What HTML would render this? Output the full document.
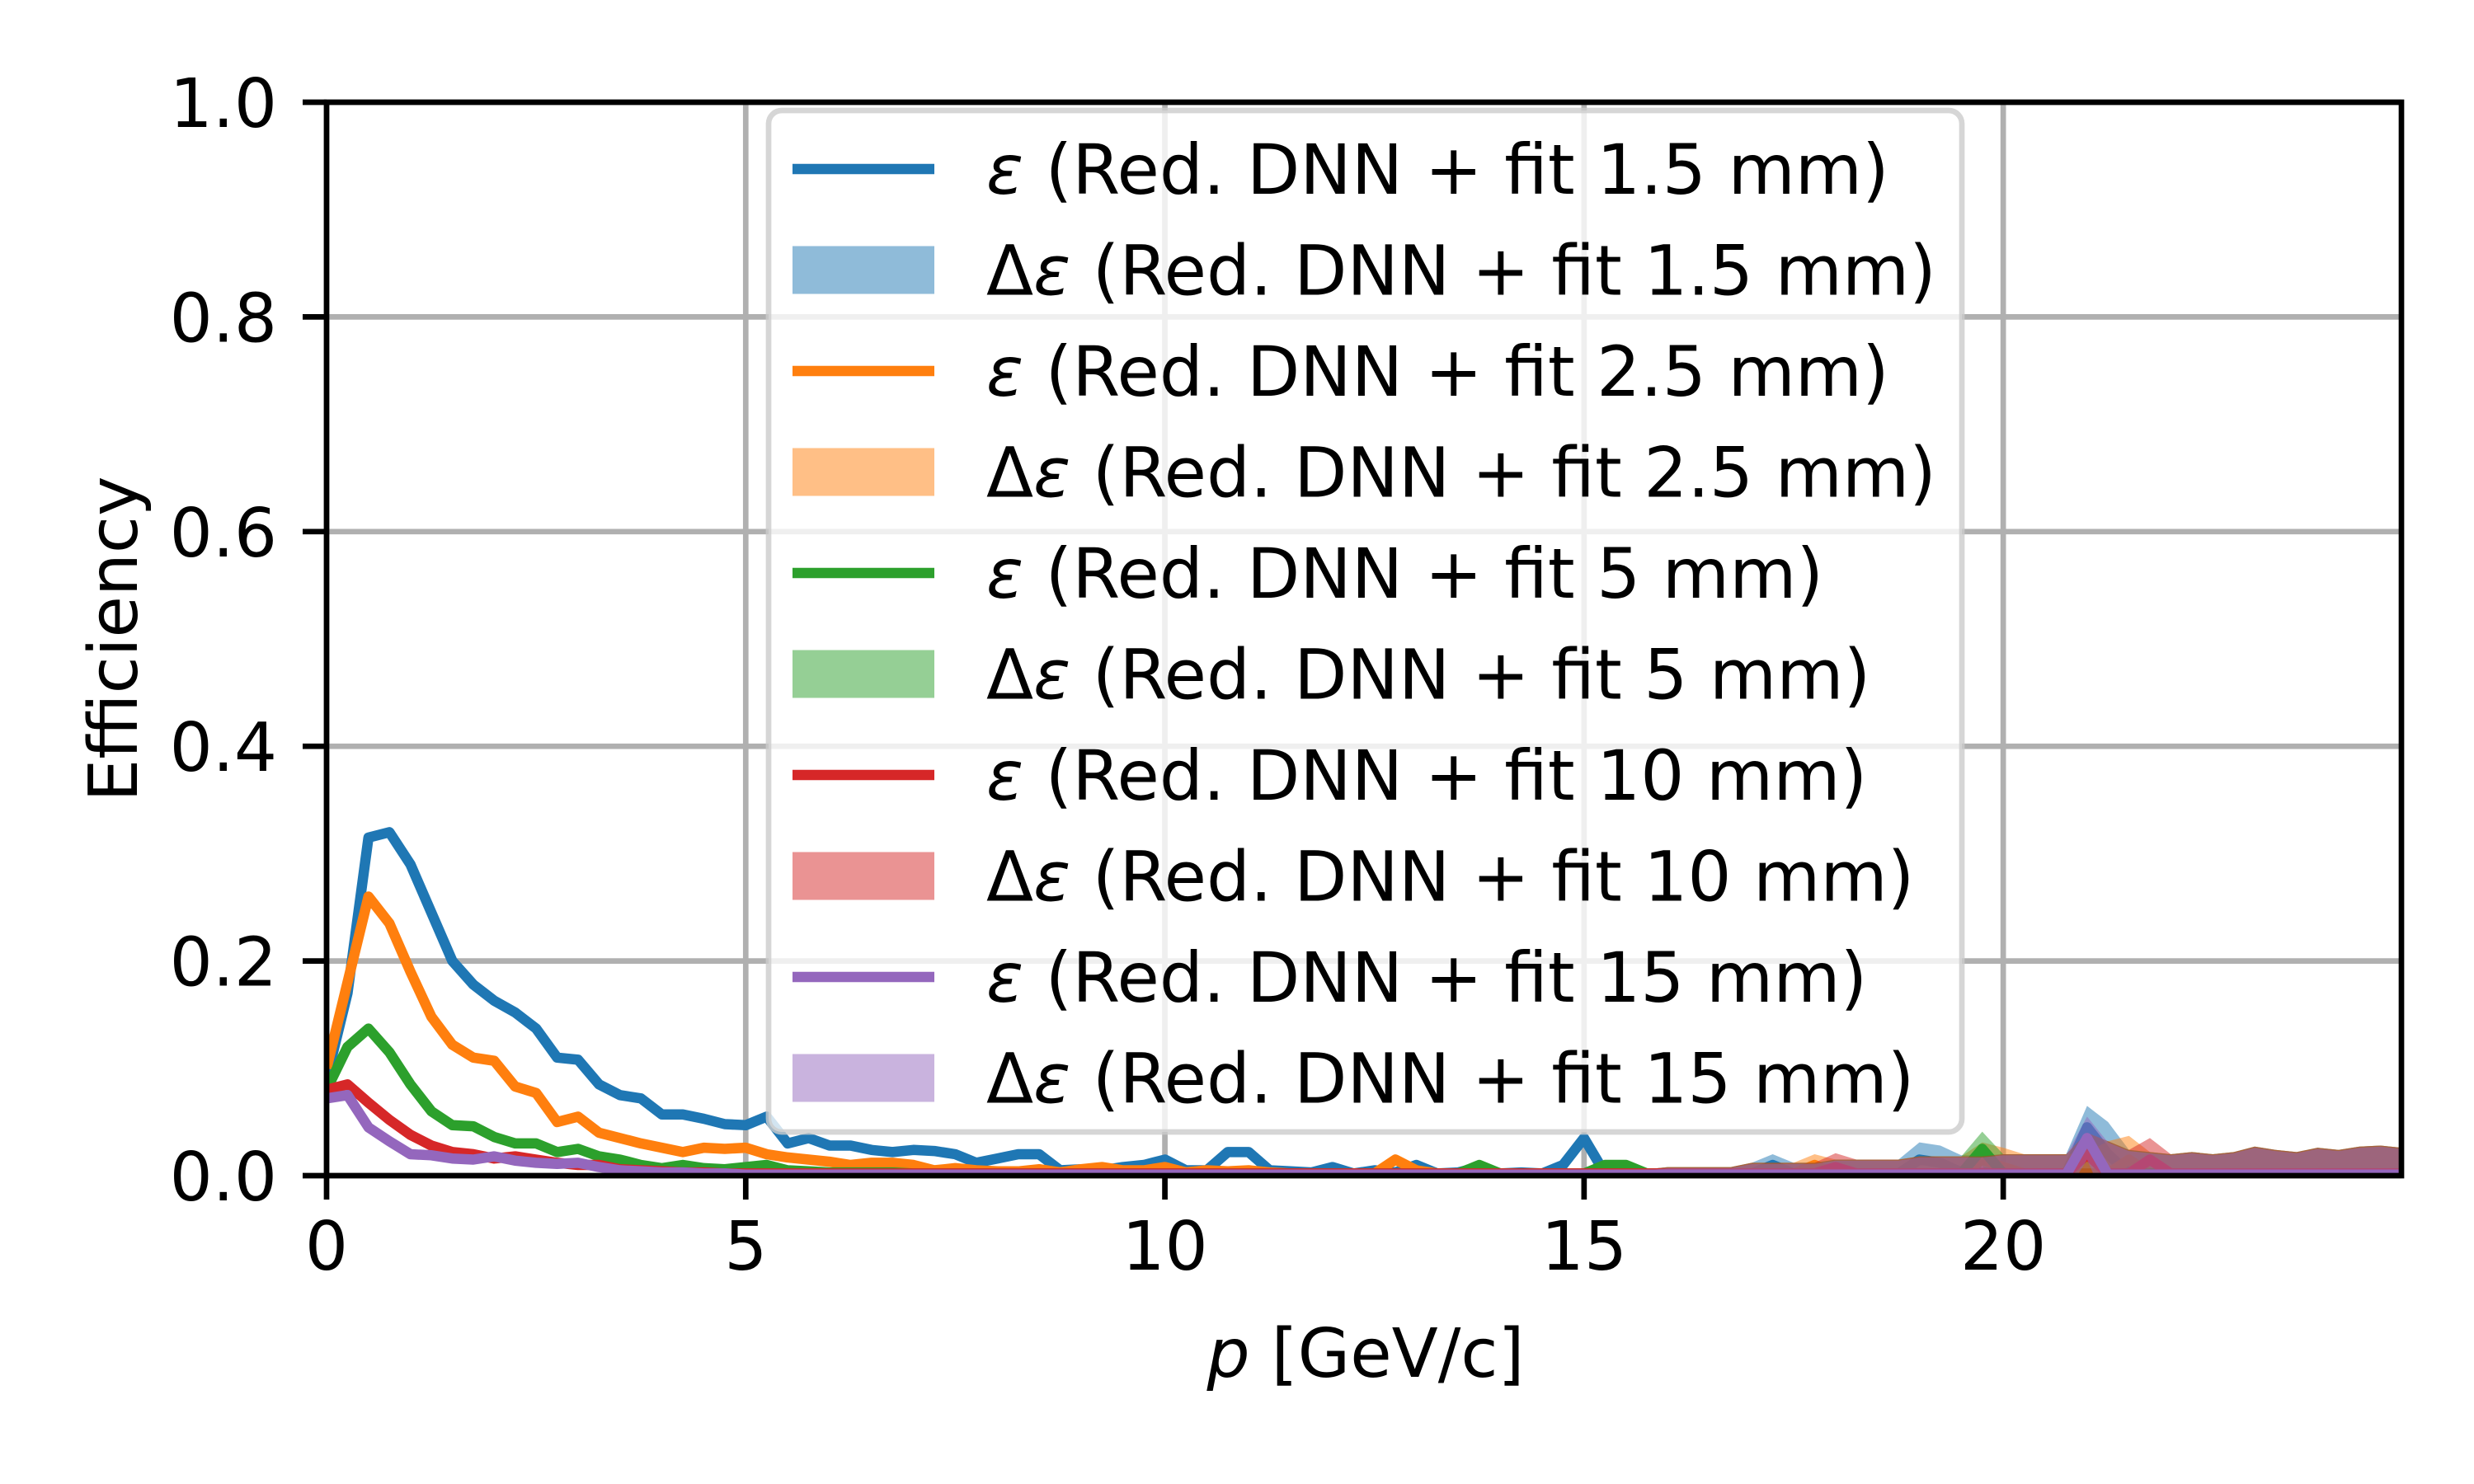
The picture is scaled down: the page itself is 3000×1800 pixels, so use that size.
<!DOCTYPE html>
<html><head><meta charset="utf-8"><style>
html,body{margin:0;padding:0;background:#fff}
svg{display:block}
text{font-family:"DejaVu Sans","Liberation Sans",sans-serif;fill:#000}
</style></head><body>
<svg id="chart" width="3000" height="1800" viewBox="0 0 3000 1800" xmlns="http://www.w3.org/2000/svg">
<defs><clipPath id="plotclip"><rect x="396" y="124" width="2516" height="1302"/></clipPath></defs>
<g id="grid"></g>
<g id="series" clip-path="url(#plotclip)"></g>
<g id="axes"></g>
<g id="legend"></g>
<text x="0" y="0" font-size="82" text-anchor="middle" transform="translate(166,775) rotate(-90)">Efficiency</text>
<text x="1656" y="1670" font-size="82" text-anchor="middle"><tspan font-style="italic">p</tspan> [GeV/c]</text>
</svg>
<script>
const xStep = 0.25;
const xTicks = [0,5,10,15,20];
const yTicks = [0,0.2,0.4,0.6,0.8,1.0];
const yTickLabels = ["0.0","0.2","0.4","0.6","0.8","1.0"];
const labels = ["1.5 mm","2.5 mm","5 mm","10 mm","15 mm"];
const colors = ["#1f77b4","#ff7f0e","#2ca02c","#d62728","#9467bd"];
const blue = [.09,.17,.315,.32,.29,.245,.2,.178,.163,.152,.137,.11,.108,.085,.075,.072,.057,.057,.053,.048,
.047,.055,.03,.035,.028,.028,.024,.022,.024,.023,.02,.012,.016,.02,.02,.005,.006,.005,.008,.01,
.015,.005,.005,.022,.022,.005,.004,.003,.008,.002,.005,.003,.01,.002,.003,.008,.002,.003,.002,.01,
.035,.002,.002,.002,.002,.002,.002,.002,.002,.01,.002,.002,.002,.002,.002,.002,.015,.012,.003,.003,
.002,.002,.002,.002,.045,.02,.002,.002,.002,.002,.002,.002,.002,.002,.002,.002,.002,.002,.002,.002];
const orange = [.1,.18,.26,.235,.19,.148,.122,.11,.107,.083,.077,.05,.055,.04,.035,.03,.026,.022,.026,.025,
.026,.02,.017,.015,.013,.01,.012,.012,.01,.005,.007,.005,.004,.004,.006,.003,.006,.008,.005,.005,
.008,.003,.005,.004,.005,.003,.002,.002,.002,.002,.002,.015,.005,.002,.002,.002,.002,.002,.002,.002,
.002,.002,.002,.002,.002,.002,.002,.002,.002,.002,.002,.01,.002,.002,.002,.002,.002,.002,.002,.015,
.008,.002,.002,.002,.002,.002,.015,.002,.002,.002,.002,.002,.002,.002,.002,.002,.002,.002,.002,.002];
const green = [.08,.12,.137,.115,.085,.06,.047,.046,.036,.03,.03,.022,.025,.018,.015,.01,.007,.01,.007,.006,
.008,.01,.005,.004,.003,.003,.003,.003,.002,.002,.002,.002,.002,.002,.002,.002,.002,.002,.002,.002,
.002,.002,.002,.002,.002,.002,.002,.002,.002,.002,.002,.002,.002,.002,.002,.01,.002,.002,.002,.002,
.002,.01,.01,.002,.002,.002,.002,.002,.002,.002,.002,.002,.002,.002,.002,.002,.002,.002,.002,.025,
.002,.002,.002,.002,.02,.002,.002,.002,.002,.002,.002,.002,.002,.002,.002,.002,.002,.002,.002,.002];
const red = [.08,.085,.068,.052,.038,.028,.022,.02,.016,.018,.015,.012,.01,.01,.006,.005,.004,.003,.003,.002,
.002,.002,.002,.002,.002,.002,.002,.002,.002,.002,.002,.002,.002,.002,.002,.002,.002,.002,.002,.002,
.002,.002,.002,.002,.002,.002,.002,.002,.002,.002,.002,.002,.002,.002,.002,.002,.002,.002,.002,.002,
.002,.002,.002,.002,.002,.002,.002,.002,.002,.002,.002,.002,.008,.002,.002,.002,.002,.002,.002,.002,
.002,.002,.002,.002,.02,.002,.002,.015,.002,.002,.002,.002,.002,.002,.002,.002,.002,.002,.002,.002];
const purple = [.072,.075,.045,.032,.02,.019,.016,.015,.018,.014,.012,.011,.012,.008,.005,.004,.003,.003,.002,.002,
.001,.001,.001,.001,.001,.001,.001,.001,.001,.001,.001,.001,.001,.001,.001,.001,.001,.001,.001,.001,
.001,.001,.001,.001,.001,.001,.001,.001,.001,.001,.001,.001,.001,.001,.001,.001,.001,.001,.001,.001,
.001,.001,.001,.001,.001,.001,.001,.001,.001,.001,.001,.001,.001,.001,.001,.001,.001,.001,.001,.001,
.001,.001,.001,.001,.035,.001,.001,.001,.001,.001,.001,.001,.001,.001,.001,.001,.001,.001,.001,.001];
const bandErr = [.003,.003,.003,.003,.003,.003,.003,.003,.003,.003,.003,.003,.003,.003,.003,.003,.003,.003,.003,.003,
.003,.003,.003,.003,.003,.003,.003,.003,.003,.003,.003,.003,.003,.003,.003,.003,.003,.003,.003,.003,
.003,.003,.003,.003,.003,.003,.003,.003,.003,.003,.003,.003,.003,.003,.003,.003,.003,.003,.003,.003,
.004,.004,.004,.004,.006,.006,.006,.006,.01,.01,.01,.01,.013,.013,.013,.013,.016,.016,.016,.016,
.018,.018,.018,.018,.02,.03,.022,.02,.018,.02,.018,.02,.025,.022,.02,.024,.022,.025,.026,.024];
const seriesData = [blue, orange, green, red, purple];

const NS = "http://www.w3.org/2000/svg";
const X0 = 396, X1 = 2912, Y0 = 1426, Y1 = 124, XMAX = 24.75;
const xs = v => X0 + v / XMAX * (X1 - X0);
const ys = v => Y0 - v * (Y0 - Y1);
function mk(tag, attrs, parent) { const e = document.createElementNS(NS, tag); for (const k in attrs) e.setAttribute(k, attrs[k]); parent.appendChild(e); return e; }

const grid = document.getElementById('grid');
xTicks.forEach(t => { const l = mk('line', {x1: xs(t), x2: xs(t), y1: Y1, y2: Y0, stroke: '#b0b0b0', 'stroke-width': 6.7}, grid);
  
   });
yTicks.forEach(t => { const l = mk('line', {x1: X0, x2: X1, y1: ys(t), y2: ys(t), stroke: '#b0b0b0', 'stroke-width': 6.7}, grid);
  
   });

const sg = document.getElementById('series');
seriesData.forEach((arr, s) => {
  let up = [], dn = [], ln = [];
  arr.forEach((v, i) => { const x = xs(i * xStep); up.push(x.toFixed(1) + ',' + ys(v + bandErr[i]).toFixed(1)); dn.unshift(x.toFixed(1) + ',' + ys(v - bandErr[i]).toFixed(1)); ln.push(x.toFixed(1) + ',' + ys(v).toFixed(1)); });
  const band = mk('polygon', {points: up.concat(dn).join(' '), fill: colors[s], 'fill-opacity': 0.5}, sg);
  
  
  const line = mk('polyline', {points: ln.join(' '), fill: 'none', stroke: colors[s], 'stroke-width': 12.5, 'stroke-linejoin': 'round'}, sg);
  
  
});

const ax = document.getElementById('axes');
const frame = mk('rect', {x: X0, y: Y1, width: X1 - X0, height: Y0 - Y1, fill: 'none', stroke: '#000', 'stroke-width': 6.7}, ax);


xTicks.forEach(t => {
  mk('line', {x1: xs(t), x2: xs(t), y1: Y0, y2: Y0 + 29, stroke: '#000', 'stroke-width': 6.7}, ax);
  const tx = mk('text', {x: xs(t), y: Y0 + 114, 'font-size': 82, 'text-anchor': 'middle'}, ax);
  tx.textContent = String(t);
  
  
});
yTicks.forEach((t, i) => {
  mk('line', {x1: X0 - 29, x2: X0, y1: ys(t), y2: ys(t), stroke: '#000', 'stroke-width': 6.7}, ax);
  const tx = mk('text', {x: X0 - 60, y: ys(t) + 30, 'font-size': 82, 'text-anchor': 'end'}, ax);
  tx.textContent = yTickLabels[i];
  
  
});

const lg = document.getElementById('legend');
const box = mk('rect', {x: 932, y: 134, width: 1447, height: 1239, rx: 16, fill: '#fff', 'fill-opacity': 0.8, stroke: '#cccccc', 'stroke-opacity': 0.8, 'stroke-width': 6.7}, lg);


labels.forEach((lab, s) => {
  const yl = 205 + s * 2 * 122.5, yp = yl + 122.5;
  const h1 = mk('line', {x1: 961, x2: 1133, y1: yl, y2: yl, stroke: colors[s], 'stroke-width': 12.5}, lg);
  
  
  const t1 = mk('text', {x: 1196, y: yl + 30, 'font-size': 83.5}, lg);
  t1.innerHTML = '<tspan font-style="italic">ε</tspan> (Red. DNN + fit ' + lab + ')';
  
  
  const p = mk('rect', {x: 961, y: yp - 29, width: 172, height: 58, fill: colors[s], 'fill-opacity': 0.5}, lg);
  
  
  const t2 = mk('text', {x: 1196, y: yp + 30, 'font-size': 83.5}, lg);
  t2.innerHTML = 'Δ<tspan font-style="italic">ε</tspan> (Red. DNN + fit ' + lab + ')';
  
  
});
</script>
</body></html>
